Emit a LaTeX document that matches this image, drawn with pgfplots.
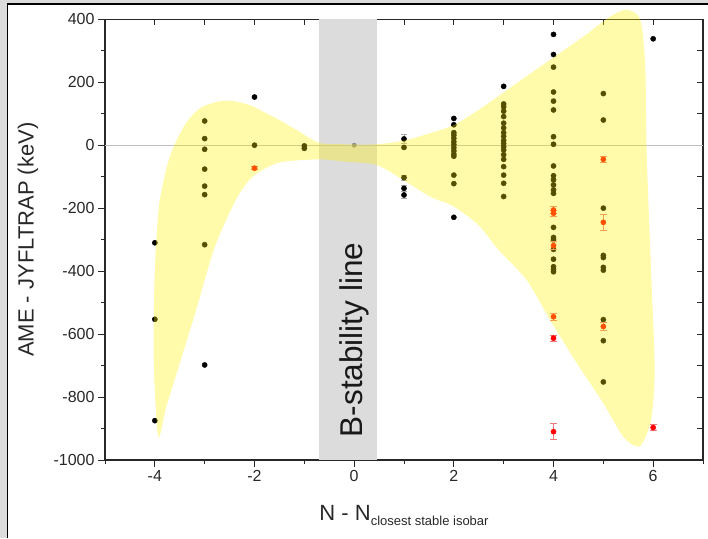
\documentclass[border=0pt]{standalone}
\usepackage{pgfplots}
\pgfplotsset{compat=1.18}
\usepackage{fontspec}
\setmainfont{Liberation Sans}

\definecolor{framegray}{RGB}{220,220,220}
\definecolor{bandgray}{RGB}{220,220,220}
\definecolor{axisdark}{RGB}{40,40,40}
\definecolor{errred}{RGB}{240,120,120}
\definecolor{errgray}{RGB}{170,170,170}

\begin{document}
\begin{tikzpicture}[x=1pt,y=1pt]
\useasboundingbox (0,0) rectangle (708,538);
% slide frame
\fill[framegray] (0,0) rectangle (7,538);
\fill[framegray] (0,535) rectangle (708,538);
\draw[black, line width=1.5pt] (7.5,0) -- (7.5,533.8) -- (708,533.8);

% top and right axis lines with inward ticks
\begin{axis}[
  at={(105pt,78pt)}, anchor=south west,
  scale only axis, width=598pt, height=440.7pt,
  xmin=-5, xmax=7, ymin=-1000, ymax=400,
  axis x line*=top, axis y line*=right,
  tick align=inside,
  xtick={-4,-3,...,6}, ytick={-900,-800,...,300},
  xticklabels={}, yticklabels={},
  major tick length=6pt,
  tick style={axisdark, line width=1pt},
  axis line style={axisdark, line width=1.3pt},
]
\end{axis}

\begin{axis}[
  at={(105pt,78pt)}, anchor=south west,
  scale only axis, width=598pt, height=440.7pt,
  xmin=-5, xmax=7, ymin=-1000, ymax=400,
  axis x line*=bottom, axis y line*=left,
  tick align=outside,
  xtick={-4,-2,0,2,4,6}, xticklabels={-4,-2,0,2,4,6},
  minor xtick={-5,-3,-1,1,3,5,7},
  ytick={-1000,-800,-600,-400,-200,0,200,400},
  yticklabels={-1000,-800,-600,-400,-200,0,200,400},
  minor ytick={-900,-700,-500,-300,-100,100,300},
  major tick length=7pt, minor tick length=4pt,
  tick style={axisdark, line width=1pt},
  axis line style={axisdark, line width=1.3pt},
  ticklabel style={font=\fontsize{16}{16}\selectfont, text=axisdark},
  clip=false, clip marker paths=true,
  xlabel={N - N\raisebox{-5pt}{\fontsize{13}{13}\selectfont closest stable isobar}},
  ylabel={AME - JYFLTRAP (keV)},
  label style={font=\fontsize{22}{24}\selectfont, text=axisdark},
  xlabel style={at={([yshift=-60pt]axis description cs:0.5,0)}, anchor=base},
  ylabel style={at={([xshift=-77pt]axis description cs:0,0.5)}, anchor=center},
]
% beta-stability band
\addplot[fill=bandgray, draw=none, forget plot]
  coordinates {(-0.71,-1000) (0.45,-1000) (0.45,400) (-0.71,400)} -- cycle;
% zero line
\addplot[black!25, line width=1.4pt, forget plot] coordinates {(-5,0) (7,0)};

% measured differences
\addplot[only marks, mark=*, mark size=2.6pt, black, forget plot] coordinates {
  (-4,-310) (-4,-553) (-4,-875)
  (-3,77) (-3,21) (-3,-13) (-3,-76) (-3,-130) (-3,-157) (-3,-316) (-3,-698)
  (-2,153) (-2,0)
  (-1,-2) (-1,-10)
  (1,-7)
  (2,85) (2,65) (2,40) (2,32) (2,22) (2,11) (2,2) (2,-8) (2,-18) (2,-28) (2,-35) (2,-95) (2,-122) (2,-229)
  (3,187) (3,131) (3,122) (3,108) (3,91) (3,70) (3,55) (3,40) (3,28) (3,15) (3,5) (3,-5) (3,-15) (3,-30) (3,-45) (3,-68) (3,-95) (3,-121) (3,-163)
  (4,352) (4,288) (4,248) (4,169) (4,140) (4,112) (4,27) (4,3) (4,-66) (4,-97) (4,-110) (4,-126) (4,-142) (4,-153) (4,-261) (4,-293) (4,-301) (4,-331) (4,-362) (4,-386) (4,-394) (4,-402)
  (5,164) (5,80) (5,-200) (5,-350) (5,-357) (5,-388) (5,-397) (5,-554) (5,-621) (5,-752)
  (6,338)
};
\addplot[only marks, mark=*, mark size=2.6pt, black, forget plot,
  error bars/.cd, y dir=both, y explicit,
  error bar style={errgray, line width=0.8pt},
  error mark options={rotate=90, mark size=3pt, errgray, line width=0.8pt}]
  coordinates {
  (1,20) +- (0,15) (1,-103) +- (0,8) (1,-137) +- (0,10) (1,-158) +- (0,10)
};
\addplot[only marks, mark=*, mark size=2.2pt, black!45, forget plot] coordinates {(0,0)};

% red points with uncertainties
\addplot[only marks, mark=*, mark size=2.6pt, red, forget plot,
  error bars/.cd, y dir=both, y explicit,
  error bar style={errred, line width=0.8pt},
  error mark options={rotate=90, mark size=3.5pt, errred, line width=0.8pt}]
  coordinates {
  (-2,-73) +- (0,5)
  (4,-206) +- (0,12) (4,-216) +- (0,10) (4,-319) +- (0,12) (4,-545) +- (0,10)
  (4,-613) +- (0,10) (4,-910) +- (0,25)
  (5,-45) +- (0,10) (5,-245) +- (0,25) (5,-576) +- (0,12)
  (6,-897) +- (0,10)
};

% shaded envelope
\addplot[fill=yellow, fill opacity=0.33, draw=none, smooth cycle, forget plot] coordinates {
  (-3.93,-925) (-4.02,-700) (-4.01,-450) (-3.97,-300) (-3.9,-174) (-3.7,-36)
  (-3.4,64) (-3.1,117) (-2.75,138) (-2.47,141) (-2.1,128) (-1.76,101) (-1.5,80)
  (-1.1,43) (-0.71,8) (-0.2,3) (0.45,3) (1,15) (1.52,38) (2,64) (2.59,122)
  (3.26,197) (3.93,271) (4.6,345) (5.13,408) (5.47,430) (5.74,398) (5.84,250)
  (5.87,-30) (5.97,-449) (6.03,-714) (5.97,-862) (5.85,-925) (5.7,-958)
  (5.4,-926) (5.0,-820) (4.47,-693) (3.93,-555) (3.46,-428) (2.9,-333)
  (2.5,-255) (2,-195) (1.52,-163) (1,-112) (0.45,-63) (-0.2,-52) (-0.71,-45)
  (-1.5,-55) (-2.0,-95) (-2.3,-153) (-2.57,-238) (-2.84,-343) (-3.17,-523)
  (-3.5,-693) (-3.77,-831)
};

\node[rotate=90, font=\fontsize{31.5}{32}\selectfont, text=black!90] at (axis cs:0,-619) {B-stability line};
\end{axis}
\end{tikzpicture}
\end{document}
